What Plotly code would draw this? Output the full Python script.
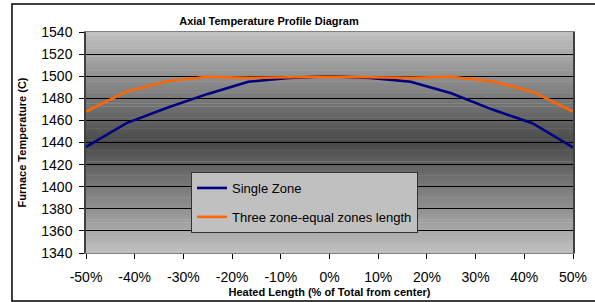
import plotly.graph_objects as go

# ---- data ----
x_pos = [-50, -41.67, -33.33, -25, -16.67, -8.33, 0, 8.33, 16.67, 25, 33.33, 41.67, 50]
single_zone = [1436, 1457.5, 1471.5, 1484, 1495, 1498.5, 1500, 1498.5, 1495, 1484.5, 1470, 1457.5, 1435.5]
three_zone = [1468, 1486, 1495.5, 1499.5, 1498.5, 1499, 1499.5, 1499, 1498.5, 1499.5, 1495.5, 1486, 1468]
x_tick_vals = [-50, -40, -30, -20, -10, 0, 10, 20, 30, 40, 50]
x_tick_text = ["-50%", "-40%", "-30%", "-20%", "-10%", "0%", "10%", "20%", "30%", "40%", "50%"]
y_ticks = [1340, 1360, 1380, 1400, 1420, 1440, 1460, 1480, 1500, 1520, 1540]

FONT = "Liberation Sans, Arial, sans-serif"

fig = go.Figure()
fig.add_trace(go.Scatter(x=x_pos, y=single_zone, mode="lines", name="Single Zone",
                         legendgroup="a", line=dict(color="#000080", width=2.6)))
fig.add_trace(go.Scatter(x=x_pos, y=three_zone, mode="lines", name="Three zone-equal zones length",
                         legendgroup="b", line=dict(color="#FF6600", width=2.6)))

# gradient background (light top/bottom, dark centre)
shapes = []
n = 80
light = (192, 192, 192)
dark = (74, 74, 74)
for i in range(n):
    c = (i + 0.5) / n
    t = abs(c - 0.5) * 2
    col = tuple(int(round(dark[k] + (light[k] - dark[k]) * t)) for k in range(3))
    shapes.append(dict(type="rect", xref="x domain", yref="y domain", x0=0, x1=1,
                       y0=i / n, y1=(i + 1) / n + 0.002, layer="below",
                       fillcolor="rgb(%d,%d,%d)" % col, line=dict(width=0)))
# outer chart border
shapes.append(dict(type="rect", xref="paper", yref="paper", x0=-0.152, x1=1.2,
                   y0=-0.2172, y1=1.1267, line=dict(color="black", width=1.5),
                   fillcolor="rgba(0,0,0,0)", layer="above"))

fig.update_layout(
    width=595, height=302,
    margin=dict(l=86, r=22, t=32, b=49, autoexpand=False),
    paper_bgcolor="white",
    plot_bgcolor="rgba(0,0,0,0)",
    font=dict(family=FONT, color="black"),
    shapes=shapes,
    title=dict(text="<b>Axial Temperature Profile Diagram</b>", xref="container",
               x=269 / 595, xanchor="center", y=1 - 21 / 302, yanchor="middle",
               font=dict(size=11, family=FONT, color="black"), automargin=False),
    showlegend=True,
    legend=dict(x=(191 - 86) / 487, xanchor="left", y=(253 - 172) / 221, yanchor="top",
                bgcolor="#C0C0C0", bordercolor="#333333", borderwidth=1,
                font=dict(size=13, family=FONT, color="black"),
                traceorder="grouped", tracegroupgap=9),
)
fig.update_xaxes(range=[-50, 50], tickvals=x_tick_vals, ticktext=x_tick_text,
                 showgrid=False, zeroline=False, ticks="outside", ticklen=5,
                 tickcolor="black", showline=True, linecolor="#808080", linewidth=1,
                 mirror=True, tickfont=dict(size=14, family=FONT, color="black"),
                 automargin=False, ticklabelstandoff=6,
                 title=dict(text="<b>Heated Length (% of Total from center)</b>",
                            font=dict(size=11, family=FONT, color="black"), standoff=4))
fig.update_yaxes(range=[1340, 1540], tickvals=y_ticks, showgrid=True, gridcolor="black",
                 gridwidth=1, zeroline=False, ticks="outside", ticklen=5, tickcolor="black",
                 showline=True, linecolor="#404040", linewidth=1.5, mirror=True,
                 tickfont=dict(size=14, family=FONT, color="black"),
                 automargin=False, ticklabelstandoff=4,
                 title=dict(text="<b>Furnace Temperature (C)</b>",
                            font=dict(size=11, family=FONT, color="black"), standoff=12))

fig.write_html("out.html", config={"displayModeBar": False},
               post_script="document.body.style.margin='0';")
